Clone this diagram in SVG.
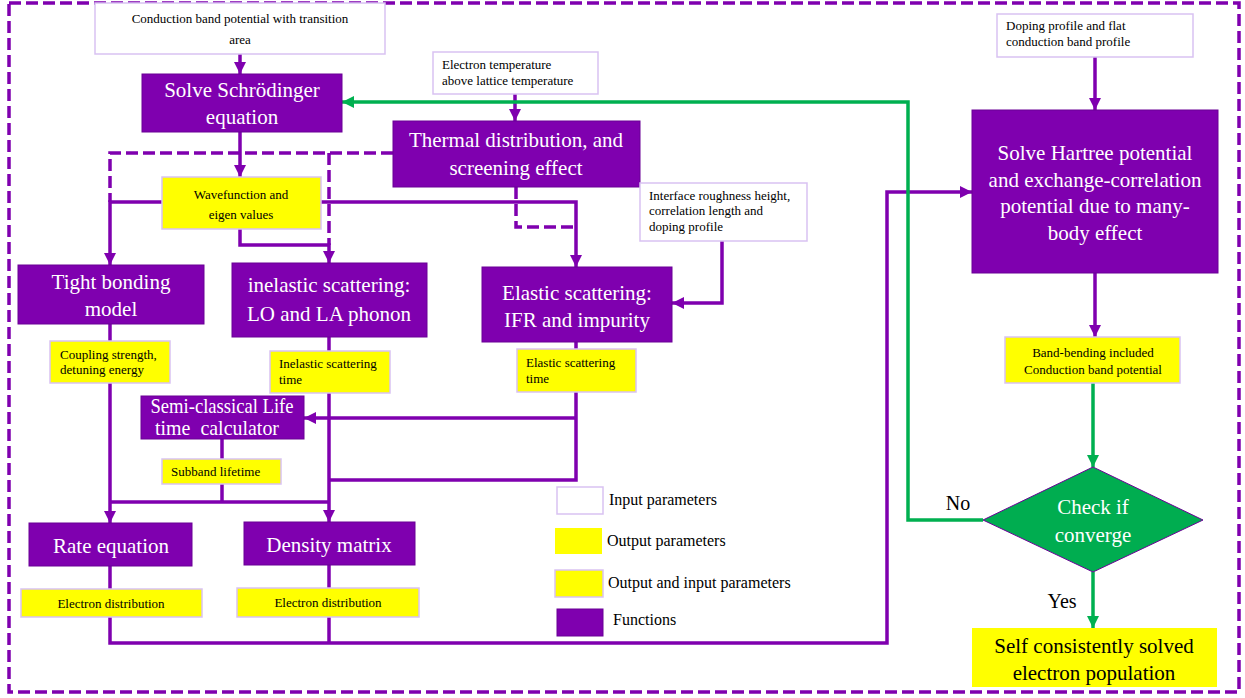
<svg xmlns="http://www.w3.org/2000/svg" width="1245" height="698" viewBox="0 0 1245 698">
<style>
text{font-family:"Liberation Serif","Times New Roman","DejaVu Serif",serif}
.fn{fill:#7F00AF;stroke:#6A0096;stroke-width:1}
.inp{fill:#FFFFFF;stroke:#D9C2F2;stroke-width:1.5}
.out{fill:#FFFF00;stroke:#D9C2F2;stroke-width:1.5}
.outn{fill:#FFFF00;stroke:none}
.tw{fill:#FFFFFF;font-size:21px;text-anchor:middle}
.tb{fill:#000000;font-size:13px}
.tbm{fill:#000000;font-size:13px;text-anchor:middle}
.pl{fill:none;stroke:#7F00AF;stroke-width:3.5}
.pd{fill:none;stroke:#7F00AF;stroke-width:3.5;stroke-dasharray:12 5}
.gl{fill:none;stroke:#00B050;stroke-width:3.5}
</style>
<defs>
<marker id="ap" viewBox="0 0 10 10" refX="10" refY="5" markerWidth="12" markerHeight="12" markerUnits="userSpaceOnUse" orient="auto"><path d="M0,0 L10,5 L0,10 z" fill="#7F00AF"/></marker>
<marker id="ag" viewBox="0 0 10 10" refX="10" refY="5" markerWidth="12" markerHeight="12" markerUnits="userSpaceOnUse" orient="auto"><path d="M0,0 L10,5 L0,10 z" fill="#00B050"/></marker>
</defs>
<rect x="0" y="0" width="1245" height="698" fill="#FFFFFF"/>
<rect id="frame" x="9" y="3" width="1230" height="689" fill="none" stroke="#7F00AF" stroke-width="3.5" stroke-dasharray="12 5"/>

<g id="connectors">
<path class="pl" d="M240,54 V74" marker-end="url(#ap)"/>
<path class="pl" d="M240,132 V177" marker-end="url(#ap)"/>
<path class="pl" d="M515,94 V121" marker-end="url(#ap)"/>
<path class="pl" d="M1095,57 V110" marker-end="url(#ap)"/>
<path class="pl" d="M1095,273 V337" marker-end="url(#ap)"/>
<path class="pd" d="M393,153 H110 V202"/>
<path class="pd" d="M329,153 V245"/>
<path class="pd" d="M516,187 V227 H576"/>
<path class="pl" d="M162,202 H110 V265" marker-end="url(#ap)"/>
<path class="pl" d="M321,202 H576 V267" marker-end="url(#ap)"/>
<path class="pl" d="M240,229 V245 H329 V263" marker-end="url(#ap)"/>
<path class="pl" d="M722,241 V303 H672" marker-end="url(#ap)"/>
<path class="pl" d="M110,324 V523" marker-end="url(#ap)"/>
<path class="pl" d="M329,337 V522" marker-end="url(#ap)"/>
<path class="pl" d="M576,342 V480 H329"/>
<path class="pl" d="M576,418 H304" marker-end="url(#ap)"/>
<path class="pl" d="M222,439 V502"/>
<path class="pl" d="M110,502 H329"/>
<path class="pl" d="M110,566 V643 H887 V192 H972" marker-end="url(#ap)"/>
<path class="pl" d="M329,565 V643"/>
<path class="gl" d="M983,520 H908 V102 H342" marker-end="url(#ag)"/>
<path class="gl" d="M1093,383 V467" marker-end="url(#ag)"/>
<path class="gl" d="M1093,572 V628" marker-end="url(#ag)"/>
</g>

<g id="n-cbp">
<rect class="inp" x="95" y="3" width="290" height="51"/>
<text class="tbm" x="240" y="23" font-size="14">Conduction band potential with transition</text>
<text class="tbm" x="240" y="44" font-size="14">area</text>
</g>
<g id="n-schrodinger">
<rect class="fn" x="142" y="74" width="200" height="58"/>
<text class="tw" x="242" y="97">Solve Schrödinger</text>
<text class="tw" x="242" y="124">equation</text>
</g>
<g id="n-etemp">
<rect class="inp" x="433" y="52" width="165" height="42"/>
<text class="tb" x="442" y="69" font-size="12.5">Electron temperature</text>
<text class="tb" x="442" y="85" font-size="12.5">above lattice temperature</text>
</g>
<g id="n-thermal">
<rect class="fn" x="393" y="121" width="247" height="66"/>
<text class="tw" x="516" y="147">Thermal distribution, and</text>
<text class="tw" x="516" y="175">screening effect</text>
</g>
<g id="n-wave">
<rect class="out" x="162" y="177" width="159" height="52"/>
<text class="tbm" x="241" y="199" font-size="14">Wavefunction and</text>
<text class="tbm" x="241" y="219" font-size="14">eigen values</text>
</g>
<g id="n-ifr">
<rect class="inp" x="640" y="183" width="167" height="58"/>
<text class="tb" x="649" y="200" font-size="12.5">Interface roughness height,</text>
<text class="tb" x="649" y="215" font-size="12.5">correlation length and</text>
<text class="tb" x="649" y="231" font-size="12.5">doping profile</text>
</g>
<g id="n-tight">
<rect class="fn" x="18" y="265" width="186" height="59"/>
<text class="tw" x="111" y="289">Tight bonding</text>
<text class="tw" x="111" y="316">model</text>
</g>
<g id="n-inelastic">
<rect class="fn" x="232" y="263" width="195" height="74"/>
<text class="tw" x="329" y="292">inelastic scattering:</text>
<text class="tw" x="329" y="321">LO and LA phonon</text>
</g>
<g id="n-elastic">
<rect class="fn" x="482" y="267" width="190" height="75"/>
<text class="tw" x="577" y="300">Elastic scattering:</text>
<text class="tw" x="577" y="327">IFR and impurity</text>
</g>
<g id="n-coupling">
<rect class="out" x="50" y="341" width="120" height="42"/>
<text class="tb" x="60" y="359" font-size="12.5">Coupling strength,</text>
<text class="tb" x="60" y="374" font-size="12.5">detuning energy</text>
</g>
<g id="n-ineltime">
<rect class="out" x="270" y="351" width="120" height="42"/>
<text class="tb" x="279" y="368" font-size="12.5">Inelastic scattering</text>
<text class="tb" x="279" y="384" font-size="12.5">time</text>
</g>
<g id="n-eltime">
<rect class="out" x="517" y="349" width="119" height="43"/>
<text class="tb" x="526" y="367" font-size="12.5">Elastic scattering</text>
<text class="tb" x="526" y="383" font-size="12.5">time</text>
</g>
<g id="n-semi">
<rect class="fn" x="141" y="396" width="163" height="43"/>
<text class="tw" x="222" y="413" font-size="16" textLength="143" lengthAdjust="spacingAndGlyphs">Semi-classical Life</text>
<text class="tw" x="217" y="435" font-size="16" xml:space="preserve" textLength="124" lengthAdjust="spacingAndGlyphs">time  calculator</text>
</g>
<g id="n-subband">
<rect class="out" x="162" y="459" width="119" height="25"/>
<text class="tb" x="171" y="476" font-size="12.5">Subband lifetime</text>
</g>
<g id="n-rate">
<rect class="fn" x="29" y="523" width="163" height="43"/>
<text class="tw" x="111" y="553">Rate equation</text>
</g>
<g id="n-density">
<rect class="fn" x="244" y="522" width="171" height="43"/>
<text class="tw" x="329" y="552">Density matrix</text>
</g>
<g id="n-edist1">
<rect class="out" x="21" y="589" width="181" height="28"/>
<text class="tbm" x="111" y="608">Electron distribution</text>
</g>
<g id="n-edist2">
<rect class="out" x="237" y="588" width="182" height="29"/>
<text class="tbm" x="328" y="607">Electron distribution</text>
</g>
<g id="n-doping">
<rect class="inp" x="997" y="14" width="196" height="43"/>
<text class="tb" x="1006" y="30" font-size="12.5">Doping profile and flat</text>
<text class="tb" x="1006" y="46" font-size="12.5">conduction band profile</text>
</g>
<g id="n-hartree">
<rect class="fn" x="972" y="110" width="246" height="163"/>
<text class="tw" x="1095" y="160">Solve Hartree potential</text>
<text class="tw" x="1095" y="187">and exchange-correlation</text>
<text class="tw" x="1095" y="213">potential due to many-</text>
<text class="tw" x="1095" y="240">body effect</text>
</g>
<g id="n-band">
<rect class="out" x="1005" y="337" width="175" height="46"/>
<text class="tbm" x="1093" y="357">Band-bending included</text>
<text class="tbm" x="1093" y="374">Conduction band potential</text>
</g>
<g id="n-check">
<polygon points="1093,467 1203,520 1093,572 983,520" fill="#00AD50" stroke="#6A0096" stroke-width="1"/>
<text class="tw" x="1093" y="514">Check if</text>
<text class="tw" x="1093" y="542">converge</text>
</g>
<g id="n-self">
<rect class="outn" x="972" y="628" width="245" height="59"/>
<text class="tw" x="1094" y="653" style="fill:#000000">Self consistently solved</text>
<text class="tw" x="1094" y="680" style="fill:#000000">electron population</text>
</g>
<g id="labels">
<text x="958" y="510" font-size="20" text-anchor="middle" fill="#000000">No</text>
<text x="1062" y="608" font-size="20" text-anchor="middle" fill="#000000">Yes</text>
</g>
<g id="legend">
<rect class="inp" x="557" y="487" width="46" height="27"/>
<text x="609" y="505" font-size="16" fill="#000000">Input parameters</text>
<rect class="outn" x="555" y="528" width="47" height="26"/>
<text x="607" y="546" font-size="16" fill="#000000">Output parameters</text>
<rect class="out" x="555" y="570" width="48" height="27"/>
<text x="608" y="588" font-size="16" fill="#000000">Output and input parameters</text>
<rect class="fn" x="557" y="609" width="46" height="27"/>
<text x="613" y="625" font-size="16" fill="#000000">Functions</text>
</g>
</svg>
